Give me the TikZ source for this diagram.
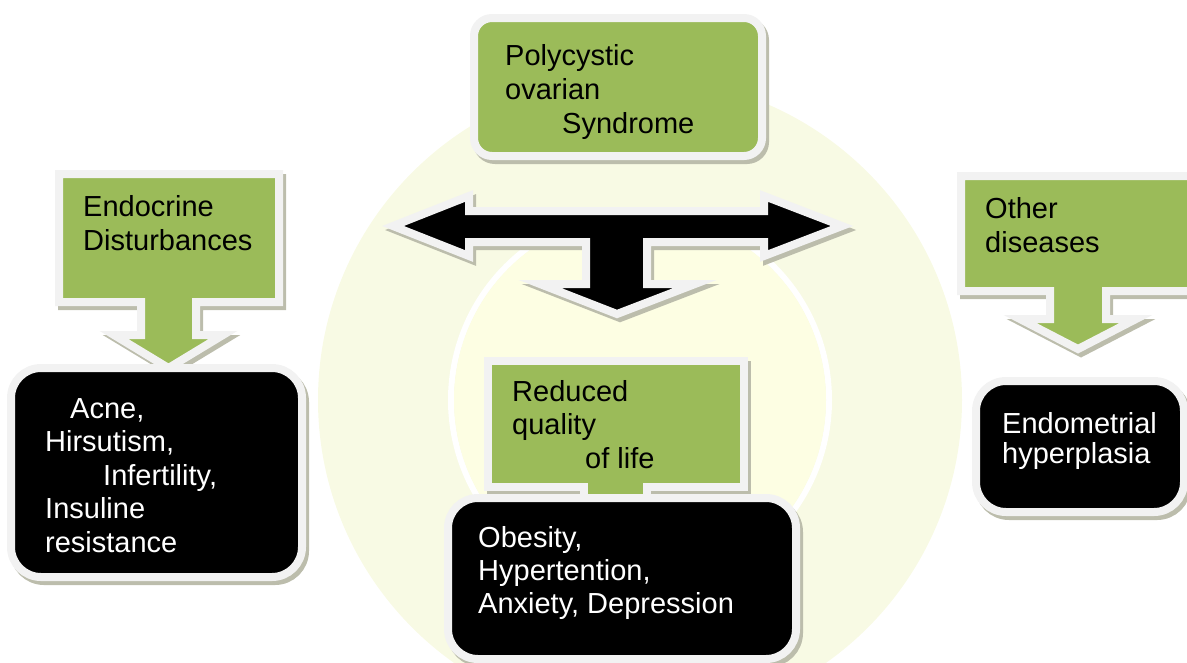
\documentclass[tikz,border=0pt]{standalone}
\usepackage{fontspec}
\setmainfont{Liberation Sans}
\usetikzlibrary{positioning}

\definecolor{olivebox}{HTML}{9BBB59}
\definecolor{rimgray}{HTML}{F2F2F2}
\definecolor{shadegray}{HTML}{BCBDAC}
\definecolor{sealouter}{HTML}{F8FAE4}
\definecolor{sealinner}{HTML}{FDFEE3}

\tikzset{
	shaded/.style={preaction={draw=shadegray, fill=shadegray, line width=8pt,
		transform canvas={shift={(3,4)}}}},
	greenbox/.style={fill=olivebox, draw=rimgray, line width=8pt, shaded},
	blackbox/.style={fill=black, draw=rimgray, line width=8pt, rounded corners=30pt, shaded},
	% anchored at the baseline of the last line
	darktext/.style={font=\fontsize{29}{34}\selectfont, align=left, inner sep=0pt, anchor=base west},
	lighttext/.style={darktext, text=white},
}

\begin{document}
\begin{tikzpicture}[x=1pt, y=-1pt]
	\clip (0,0) rectangle (1187,662);
	% faint seal in the background
	\fill[sealouter] (640,400) circle[radius=322pt];
	\draw[white, line width=6pt] (640,400) circle[radius=189pt];
	\fill[sealinner] (640,400) circle[radius=186pt];

	% callouts
	\draw[greenbox] (59,174) -- (279,174) -- (279,302) -- (196,302) -- (196,335) -- (223,335)
		-- (168.5,368) -- (114,335) -- (141,335) -- (141,302) -- (59,302) -- cycle;
	\draw[greenbox] (961,176) -- (1195,176) -- (1195,291) -- (1106,291) -- (1106,319) -- (1136,319)
		-- (1078,349) -- (1020,319) -- (1050,319) -- (1050,291) -- (961,291) -- cycle;
	\draw[greenbox] (488,361) -- (744,361) -- (744,487) -- (647,487) -- (647,505)
		-- (584,505) -- (584,487) -- (488,487) -- cycle;
	\node[greenbox, rounded corners=18pt, minimum width=288pt, minimum height=138pt] (pcos) at (618,87) {};

	% three-way arrow
	\draw[fill=black, draw=rimgray, line width=8pt, shaded] (393,226) -- (469,196) -- (469,211)
		-- (764,211) -- (764,196) -- (842,226) -- (764,256) -- (764,242) -- (647,242) -- (647,284)
		-- (695,284) -- (617,314) -- (540,284) -- (586,284) -- (586,242) -- (469,242) -- (469,256) -- cycle;

	% result boxes
	\node[blackbox, minimum width=291pt, minimum height=209pt] (signs) at (156.5,472.5) {};
	\node[blackbox, minimum width=348pt, minimum height=161pt] (comorbid) at (622,578.5) {};
	\node[blackbox, minimum width=208pt, minimum height=131pt] (hyper) at (1080,446.5) {};

	% labels
	\node[darktext] (pcostext) at (505,133) {Polycystic\\ovarian\\\hspace*{57pt}Syndrome};
	\node[darktext] (endotext) at (83,250) {Endocrine\\Disturbances};
	\node[darktext] (othertext) at (985,252) {Other\\diseases};
	\node[darktext, font=\fontsize{29}{33.5}\selectfont] (qoltext) at (512,468) {Reduced\\quality\\\hspace*{73pt}of life};
	\node[lighttext, font=\fontsize{29}{33.5}\selectfont] (signtext) at (45,552) {\hspace*{25pt}Acne,\\Hirsutism,\\\hspace*{58pt}Infertility,\\Insuline\\resistance};
	\node[lighttext, font=\fontsize{29}{33}\selectfont] (comtext) at (478,613) {Obesity,\\Hypertention,\\Anxiety, Depression};
	\node[lighttext, font=\fontsize{29}{30}\selectfont] (hypertext) at (1002,463) {Endometrial\\hyperplasia};
\end{tikzpicture}
\end{document}
